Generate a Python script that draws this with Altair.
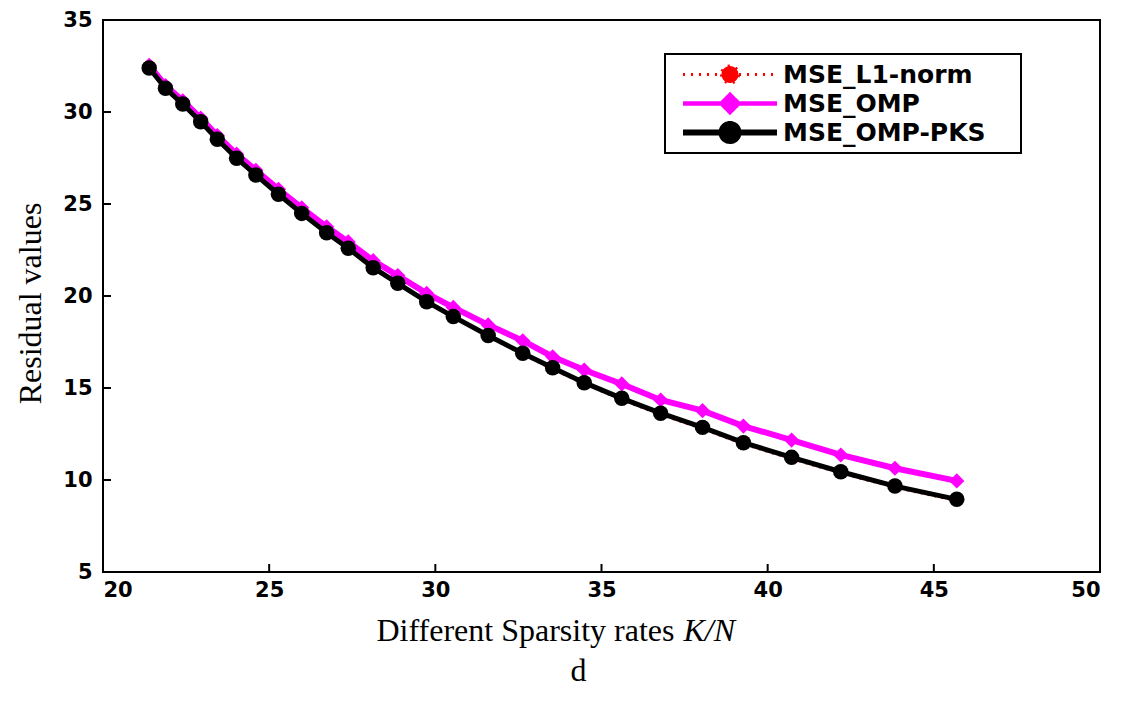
import altair as alt
import pandas as pd

# ---- data ----
series_names = ["MSE_L1-norm", "MSE_OMP", "MSE_OMP-PKS"]
series_colors = ["#ff0000", "#ff00ff", "#000000"]

x_vals = [21.39, 21.88, 22.40, 22.94, 23.44, 24.02, 24.60, 25.28, 25.98, 26.73,
          27.38, 28.13, 28.87, 29.74, 30.54, 31.59, 32.63, 33.53, 34.48, 35.61,
          36.78, 38.04, 39.27, 40.72, 42.20, 43.83, 45.69]
mse_l1 = [32.36, 31.26, 30.40, 29.44, 28.49, 27.46, 26.55, 25.50, 24.46, 23.41,
          22.56, 21.51, 20.66, 19.66, 18.85, 17.82, 16.84, 16.04, 15.23, 14.37,
          13.56, 12.79, 11.96, 11.16, 10.38, 9.60, 8.88]
mse_omp = [32.54, 31.44, 30.61, 29.67, 28.72, 27.71, 26.83, 25.80, 24.79, 23.76,
           22.94, 21.92, 21.11, 20.14, 19.38, 18.43, 17.57, 16.70, 15.98, 15.22,
           14.35, 13.77, 12.93, 12.17, 11.36, 10.64, 9.95]
mse_pks = [32.39, 31.29, 30.43, 29.47, 28.52, 27.49, 26.58, 25.53, 24.49, 23.44,
           22.59, 21.54, 20.69, 19.69, 18.88, 17.85, 16.89, 16.10, 15.29, 14.44,
           13.63, 12.86, 12.03, 11.23, 10.45, 9.67, 8.95]

x_ticks = [20, 25, 30, 35, 40, 45, 50]
y_ticks = [5, 10, 15, 20, 25, 30, 35]

rows = []
for name, ys in zip(series_names, [mse_l1, mse_omp, mse_pks]):
    for xv, yv in zip(x_vals, ys):
        rows.append({"x": xv, "y": yv, "series": name})
df = pd.DataFrame(rows)
xtick_df = pd.DataFrame({"t": x_ticks})
ytick_df = pd.DataFrame({"t": y_ticks})

W, H = 997, 552
TICK_LEN = 8
LABEL_FONT = "DejaVu Sans"
SERIF = "Liberation Serif"

xs = alt.Scale(domain=[20, 50], nice=False, zero=False)
ys = alt.Scale(domain=[5, 35], nice=False, zero=False)

x_main = alt.X("x:Q", scale=xs, axis=alt.Axis(
    values=x_ticks, ticks=False, domain=False, grid=False,
    labelFont=LABEL_FONT, labelFontSize=21, labelFontWeight="bold",
    labelColor="black", labelPadding=7,
    title="Different Sparsity rates", titleFont=SERIF, titleFontSize=32,
    titleFontWeight="normal", titleColor="black", titleX=273, titleY=58,
    titleAlign="left", titleBaseline="middle"))
y_main = alt.Y("y:Q", scale=ys, axis=alt.Axis(
    values=y_ticks, ticks=False, domain=False, grid=False,
    labelFont=LABEL_FONT, labelFontSize=21, labelFontWeight="bold",
    labelColor="black", labelPadding=11,
    title="Residual values", titleFont=SERIF, titleFontSize=32,
    titleFontWeight="normal", titleColor="black", titleX=-73, titleY=283,
    titleAngle=270, titleAlign="center", titleBaseline="middle"))

# second x axis only carries the italic "K/N" part of the x title
x_title2 = alt.X("x:Q", scale=xs, axis=alt.Axis(
    orient="top", offset=-H, values=x_ticks, labels=False, domain=False,
    grid=False, ticks=False,
    title="K/N", titleFont=SERIF, titleFontSize=32, titleFontStyle="italic",
    titleFontWeight="normal", titleColor="black", titleX=580, titleY=58,
    titleAlign="left", titleBaseline="middle"))

x_none = alt.X("x:Q", scale=xs, axis=None)
y_none = alt.Y("y:Q", scale=ys, axis=None)


def sel(name):
    return alt.datum.series == name


base = alt.Chart(df)

# inward MATLAB-style tick marks, positioned through the scales
xticks_layer = alt.Chart(xtick_df).mark_rule(color="black", strokeWidth=2).encode(
    x=alt.X("t:Q", scale=xs, axis=None),
    y=alt.value(H), y2=alt.value(H - TICK_LEN))
yticks_layer = alt.Chart(ytick_df).mark_rule(color="black", strokeWidth=2).encode(
    y=alt.Y("t:Q", scale=ys, axis=None),
    x=alt.value(0), x2=alt.value(TICK_LEN))

omp_line = base.transform_filter(sel("MSE_OMP")).mark_line(
    color="#ff00ff", strokeWidth=6).encode(x=x_main, y=y_main)
omp_pts = base.transform_filter(sel("MSE_OMP")).mark_point(
    shape="diamond", filled=True, size=230, color="#ff00ff", opacity=1
).encode(x=x_title2, y=y_none)
l1_line = base.transform_filter(sel("MSE_L1-norm")).mark_line(
    color="#ff0000", strokeWidth=3, strokeDash=[2, 5]).encode(x=x_none, y=y_none)
l1_pts = base.transform_filter(sel("MSE_L1-norm")).mark_point(
    shape="circle", filled=True, size=110, color="#ff0000", opacity=1
).encode(x=x_none, y=y_none)
pks_line = base.transform_filter(sel("MSE_OMP-PKS")).mark_line(
    color="#000000", strokeWidth=5).encode(x=x_none, y=y_none)
pks_pts = base.transform_filter(sel("MSE_OMP-PKS")).mark_point(
    shape="circle", filled=True, size=240, color="#000000", opacity=1
).encode(x=x_none, y=y_none)

# legend-only layer (invisible marks); symbols = line with a marker in the middle
# symbol unit = sqrt(400)/2 = 10 px
r = 0.85
circle_path = f"M-4.7,0H4.7M-{r},0A{r},{r} 0 1,0 {r},0A{r},{r} 0 1,0 -{r},0Z"
d = 0.85
diamond_path = f"M-4.7,0H4.7M0,-{d}L{d},0L0,{d}L-{d},0Z"
cscale = alt.Scale(domain=series_names, range=series_colors)
legend = alt.Legend(
    # a tiny white title on the right only widens the legend box
    title="i", titleOrient="right", titleColor="white", titleFontSize=8,
    titlePadding=26,
    orient="none", legendX=562, legendY=34, padding=6,
    strokeColor="black", fillColor="white", cornerRadius=0, rowPadding=0,
    clipHeight=29,
    labelFont=LABEL_FONT, labelFontSize=25, labelFontWeight="bold",
    labelColor="black", labelLimit=500, labelOffset=40, symbolOffset=46,
    symbolSize=400, symbolOpacity=1)
legend_layer = base.mark_point(filled=True, opacity=0).encode(
    x=x_none, y=y_none,
    fill=alt.Fill("series:N", scale=cscale, legend=legend),
    stroke=alt.Stroke("series:N", scale=cscale, legend=legend),
    shape=alt.Shape("series:N", scale=alt.Scale(
        domain=series_names, range=[circle_path, diamond_path, circle_path]),
        legend=legend),
    strokeDash=alt.StrokeDash("series:N", scale=alt.Scale(
        domain=series_names, range=[[2, 6], [1, 0], [1, 0]]), legend=legend),
    strokeWidth=alt.StrokeWidth("series:N", scale=alt.Scale(
        domain=series_names, range=[3, 6, 5]), legend=legend),
)

chart = alt.layer(
    xticks_layer, yticks_layer,
    omp_line, omp_pts, l1_line, l1_pts, pks_line, pks_pts, legend_layer
).resolve_axis(x="independent", y="independent").properties(
    width=W, height=H,
    autosize=alt.AutoSizeParams(type="none"),
    padding={"left": 95, "top": 12, "right": 17, "bottom": 131},
    background="white",
    title=alt.TitleParams("d", orient="bottom", font=SERIF, fontSize=32,
                          fontWeight="normal", color="black", dx=-23, offset=10),
).configure_view(stroke="black", strokeWidth=2).configure_legend(strokeWidth=2)

chart.save("out.html", embed_options={"renderer": "svg", "actions": False})
